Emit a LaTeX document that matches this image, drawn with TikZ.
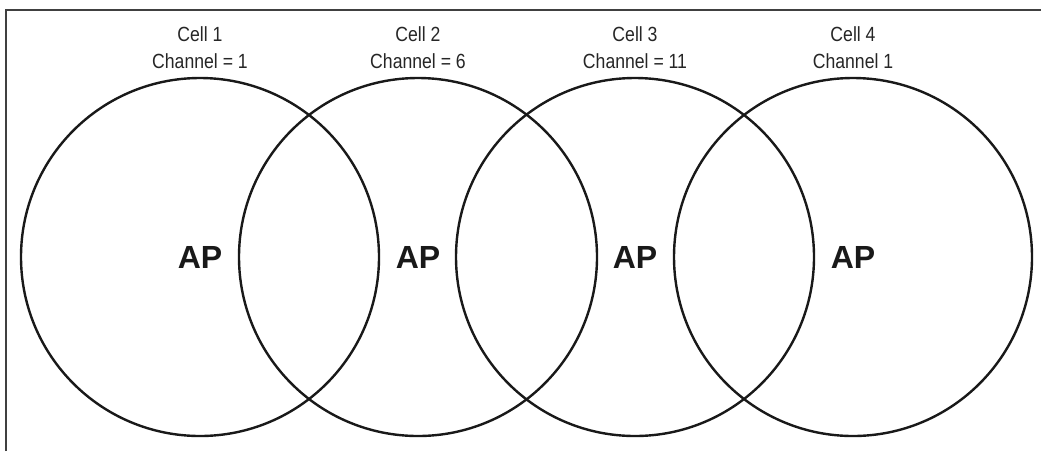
\documentclass[tikz,border=0pt]{standalone}
\usepackage{fontspec}
\setmainfont{Liberation Sans}
\begin{document}
\begin{tikzpicture}[x=1pt,y=-1pt,
  cell/.style={circle,draw=black!90,line width=2.4pt,minimum size=358pt,inner sep=0pt},
  ap/.style={font=\fontsize{32}{36}\selectfont\bfseries,text=black!90,inner sep=0pt},
  lbl/.style={font=\fontsize{20.5}{24}\selectfont,xscale=0.86,text=black!85,inner sep=0pt,anchor=base}]
\useasboundingbox (0,0) rectangle (1041,451);
\draw[line width=1.4pt,black!75] (6,451) -- (6,10) -- (1041,10);
\foreach \i/\x/\ch in {1/200/Channel = 1,2/418/Channel = 6,3/635/Channel = 11,4/853/Channel 1}{
  \node[cell] (c\i) at (\x,257) {};
  \node[ap] (ap\i) at (\x,257) {AP};
  \node[lbl] (cell\i) at (\x,41) {Cell \i};
  \node[lbl] (ch\i) at (\x,68) {\ch};
}
\end{tikzpicture}
\end{document}
